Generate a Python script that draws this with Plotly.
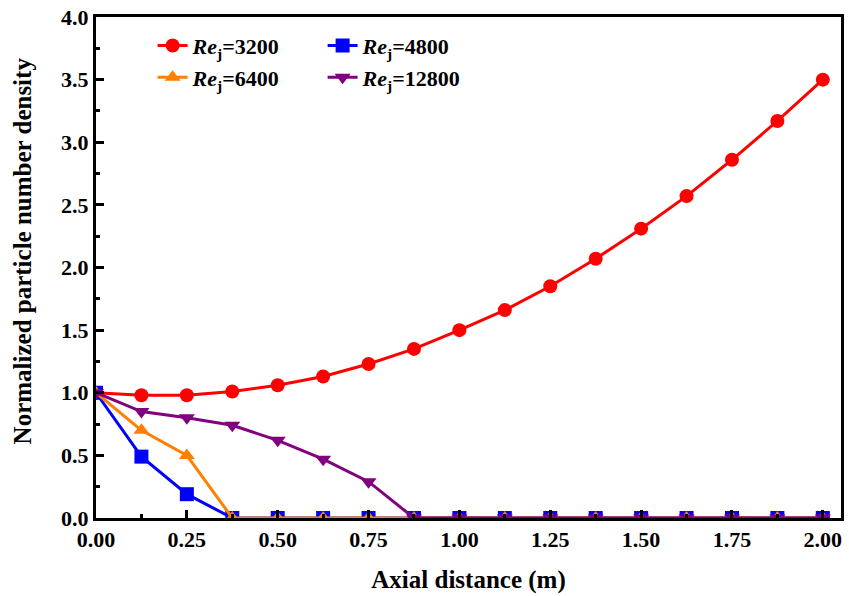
import plotly.graph_objects as go

x = [0, 0.125, 0.25, 0.375, 0.5, 0.625, 0.75, 0.875, 1.0, 1.125, 1.25, 1.375, 1.5, 1.625, 1.75, 1.875, 2.0]
re3200 = [1.0, 0.98, 0.98, 1.01, 1.06, 1.13, 1.23, 1.35, 1.50, 1.66, 1.85, 2.07, 2.31, 2.57, 2.86, 3.17, 3.50]
re4800 = [1.0, 0.49, 0.19, 0, 0, 0, 0, 0, 0, 0, 0, 0, 0, 0, 0, 0, 0]
re6400 = [1.0, 0.70, 0.50, 0, 0, 0, 0, 0, 0, 0, 0, 0, 0, 0, 0, 0, 0]
re12800 = [1.0, 0.85, 0.80, 0.74, 0.62, 0.47, 0.29, 0, 0, 0, 0, 0, 0, 0, 0, 0, 0]

names = ["<i>Re</i><sub>j</sub>=3200", "<i>Re</i><sub>j</sub>=4800",
         "<i>Re</i><sub>j</sub>=6400", "<i>Re</i><sub>j</sub>=12800"]
series = [re3200, re4800, re6400, re12800]
colors = ["#ff0000", "#0000ff", "#ff8000", "#800080"]
symbols = ["circle", "square", "triangle-up", "triangle-down"]
legends = ["legend", "legend", "legend2", "legend2"]

FONT = "Liberation Serif"

fig = go.Figure()
for n, s, c, sym, lg in zip(names, series, colors, symbols, legends):
    fig.add_trace(go.Scatter(
        x=x, y=s, name=n, mode="lines+markers",
        line=dict(color=c, width=3),
        marker=dict(symbol=sym, size=14, color=c),
        legend=lg,
    ))

axis_common = dict(
    showline=True, linecolor="black", linewidth=3, mirror=True,
    ticks="inside", ticklen=8, tickwidth=2.5, tickcolor="black",
    showgrid=False, zeroline=False,
    tickfont=dict(family=FONT, size=22, color="black", weight="bold"),
)

fig.update_xaxes(
    range=[0, 2.05], tickvals=[0, 0.25, 0.5, 0.75, 1.0, 1.25, 1.5, 1.75, 2.0],
    ticktext=["0.00", "0.25", "0.50", "0.75", "1.00", "1.25", "1.50", "1.75", "2.00"],
    minor=dict(ticks="inside", ticklen=4, tickwidth=2.5, tickcolor="black", dtick=0.125, tick0=0),
    title=dict(text="Axial distance (m)", font=dict(family=FONT, size=25, color="black", weight="bold"), standoff=20),
    **axis_common,
)
fig.update_yaxes(
    range=[0, 4.0], tickvals=[0, 0.5, 1.0, 1.5, 2.0, 2.5, 3.0, 3.5, 4.0],
    ticktext=["0.0", "0.5", "1.0", "1.5", "2.0", "2.5", "3.0", "3.5", "4.0"],
    minor=dict(ticks="inside", ticklen=4, tickwidth=2.5, tickcolor="black", dtick=0.25, tick0=0),
    **axis_common,
)

# y-axis title placed as an annotation (sits slightly above plot centre in the reference)
fig.add_annotation(
    text="Normalized particle number density", textangle=-90,
    xref="paper", yref="paper", x=(22 - 96) / 748, y=(518 - 249) / 505,
    xanchor="center", yanchor="middle", showarrow=False,
    font=dict(family=FONT, size=25, color="black", weight="bold"),
)

legend_common = dict(
    orientation="h", xanchor="left", yanchor="middle",
    bgcolor="rgba(0,0,0,0)", borderwidth=0,
    font=dict(family=FONT, size=22, color="black", weight="bold"),
    entrywidth=125, entrywidthmode="pixels",
)

fig.update_layout(
    width=849, height=596,
    margin=dict(l=96, r=5, t=13, b=78),
    plot_bgcolor="white", paper_bgcolor="white",
    legend=dict(x=0.076, y=(518 - 42) / 505, **legend_common),
    legend2=dict(x=0.076, y=(518 - 74) / 505, **legend_common),
)

fig.write_html("out.html", config={"displayModeBar": False},
               post_script="document.body.style.margin='0px';")
